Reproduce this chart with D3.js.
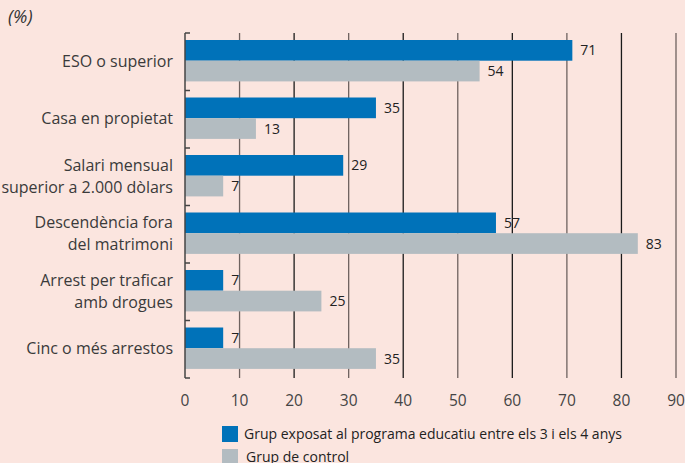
<!DOCTYPE html>
<html>
<head>
<meta charset="utf-8">
<script src="https://cdn.jsdelivr.net/npm/d3@7"></script>
<style>
  body { margin: 0; background: #fbe5df; }
  svg { display: block; font-family: "Open Sans", "Noto Sans", sans-serif; }
</style>
</head>
<body>
<div id="chart"></div>
<script>
// Data
const categories = [
  ["ESO o superior"],
  ["Casa en propietat"],
  ["Salari mensual", "superior a 2.000 dòlars"],
  ["Descendència fora", "del matrimoni"],
  ["Arrest per traficar", "amb drogues"],
  ["Cinc o més arrestos"]
];
const exposed = [71, 35, 29, 57, 7, 7];
const control = [54, 13, 7, 83, 25, 35];
const xTicks = [0, 10, 20, 30, 40, 50, 60, 70, 80, 90];
const seriesNames = ["Grup exposat al programa educatiu entre els 3 i els 4 anys", "Grup de control"];
const colors = ["#0072b9", "#b3bcc1"];

const W = 685, H = 463;
const margin = {top: 33, left: 185, right: 9, bottom: 85};

const svg = d3.select("#chart")
  .append("svg")
    .attr("width", W)
    .attr("height", H);

svg.append("rect").attr("width", W).attr("height", H).attr("fill", "#fbe5df");

// "(%)" label
svg.append("text")
  .attr("x", 8)
  .attr("y", 23)
  .style("font-size", "18px")
  .style("font-style", "italic")
  .attr("fill", "#333")
  .text("(%)");

const g = svg.append("g")
  .attr("transform", `translate(${margin.left},${margin.top})`);

const x = d3.scaleLinear().domain([0, 90]).range([0, 491]);
const y = d3.scaleBand().domain(d3.range(categories.length)).range([0, 345]);

// Grid lines
g.append("g")
  .selectAll("line")
  .data(xTicks.slice(1))
  .join("line")
    .attr("x1", d => x(d)).attr("x2", d => x(d))
    .attr("y1", 0).attr("y2", 345)
    .attr("stroke", (d, i) => i % 2 ? "#1a1a1a" : "#6e625f")
    .attr("stroke-width", 1.3);

// Bars
const barH = 20.7, offset = 7;
const groups = g.append("g")
  .selectAll("g")
  .data(categories.map((c, i) => i))
  .join("g")
    .attr("transform", i => `translate(0,${y(i)})`);

[exposed, control].forEach((vals, s) => {
  groups.append("rect")
    .attr("x", 0)
    .attr("y", offset + s * barH)
    .attr("width", i => x(vals[i]))
    .attr("height", barH)
    .attr("fill", colors[s]);
  groups.append("text")
    .attr("x", i => x(vals[i]) + 8)
    .attr("y", offset + s * barH + barH / 2 + 5)
    .style("font-size", "14px")
    .attr("fill", "#222")
    .text(i => vals[i]);
});

// Left axis (bracket with ticks at band edges)
g.append("line")
  .attr("x1", 0).attr("x2", 0).attr("y1", 0).attr("y2", 345)
  .attr("stroke", "#444").attr("stroke-width", 1.5);
g.append("g")
  .selectAll("line")
  .data(d3.range(categories.length + 1))
  .join("line")
    .attr("x1", 0).attr("x2", 5)
    .attr("y1", i => i * y.step()).attr("y2", i => i * y.step())
    .attr("stroke", "#444").attr("stroke-width", 1.5);

// Category labels
groups.append("text")
  .attr("text-anchor", "end")
  .style("font-size", "16px")
  .attr("fill", "#3a3a3a")
  .each(function(i) {
    const lines = categories[i];
    const lh = 22;
    const y0 = y.step() / 2 + 5 - (lines.length - 1) * lh / 2;
    d3.select(this).selectAll("tspan")
      .data(lines)
      .join("tspan")
        .attr("x", -12)
        .attr("y", (d, k) => y0 + k * lh)
        .text(d => d);
  });

// X axis labels
g.append("g")
  .selectAll("text")
  .data(xTicks)
  .join("text")
    .attr("x", d => x(d))
    .attr("y", 373)
    .attr("text-anchor", "middle")
    .style("font-size", "15.5px")
    .attr("fill", "#444")
    .text(d => d);

// Legend
const legend = svg.append("g").attr("transform", "translate(222,426)");
seriesNames.forEach((name, i) => {
  legend.append("rect")
    .attr("x", 0).attr("y", i * 23)
    .attr("width", 16).attr("height", 16)
    .attr("fill", colors[i]);
  legend.append("text")
    .attr("x", 22 + i * 2).attr("y", i * 23 + 13)
    .style("font-size", "14px")
    .attr("fill", "#222")
    .text(name);
});
</script>
</body>
</html>
